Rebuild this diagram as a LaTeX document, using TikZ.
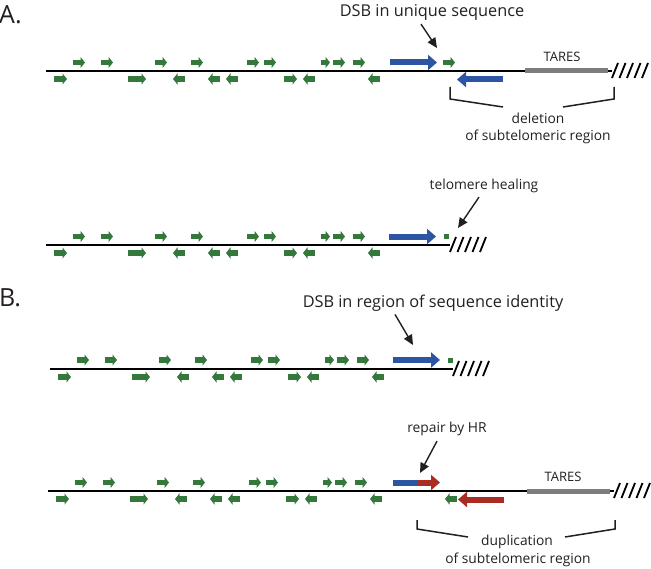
\documentclass[tikz,border=0pt]{standalone}
\usepackage{tikz}
\usetikzlibrary{arrows.meta}
\usepackage{fontspec}
\setmainfont{Open Sans}
\definecolor{repgreen}{RGB}{52,120,60}
\definecolor{dsbblue}{RGB}{46,84,164}
\definecolor{hrred}{RGB}{170,45,35}
\definecolor{taresgray}{RGB}{125,125,125}
\definecolor{inkblack}{RGB}{35,31,32}

\begin{document}
\begin{tikzpicture}[x=1bp,y=-1bp]
	\tikzstyle{dna} = [line width=2.2bp,draw=black]
	\tikzstyle{tares} = [line width=5bp,draw=taresgray]
	\tikzstyle{hatch} = [line width=1.8bp,draw=black]
	\tikzstyle{rep} = [line width=5.5bp,draw=repgreen,-{Triangle[length=4.5bp,width=11bp]}]
	\tikzstyle{bigrep} = [line width=6bp,draw=dsbblue,-{Triangle[length=9bp,width=15bp]}]
	\tikzstyle{hrrep} = [line width=6bp,draw=hrred,-{Triangle[length=9bp,width=15bp]}]
	\tikzstyle{ptr} = [line width=1.4bp,draw=inkblack,-{Triangle[length=10bp,width=9bp]}]
	\tikzstyle{brace} = [line width=1.5bp,draw=inkblack]
	\tikzstyle{lbl} = [text=inkblack,font=\fontsize{13.8bp}{16bp}\selectfont,inner sep=0]
	\tikzstyle{smlbl} = [text=inkblack,font=\fontsize{13bp}{15bp}\selectfont,inner sep=0]
	\tikzstyle{biglbl} = [text=inkblack,font=\fontsize{16.3bp}{19bp}\selectfont,inner sep=0]
	\tikzstyle{panel} = [text=inkblack,font=\fontsize{25bp}{30bp}\selectfont,inner sep=0,anchor=north west]
	\useasboundingbox (0,0) rectangle (651,569);

	\node[panel] (pA) at (-1,5) {A.};
	\node[panel] (pB) at (-1,288) {B.};

	% A. break in unique sequence
	\begin{scope}[shift={(46,71)}]
		\draw[dna] (0,0)--(566,0);
		\draw[tares] (479,0)--(562,0);
		\draw[hatch] (566,7)--(572,-8);
		\draw[hatch] (573.5,7)--(579.5,-8);
		\draw[hatch] (581,7)--(587,-8);
		\draw[hatch] (588.5,7)--(594.5,-8);
		\draw[hatch] (596,7)--(602,-8);
		\draw[rep] (27,-8.5)--++(12,0);
		\draw[rep] (55,-8.5)--++(12,0);
		\draw[rep] (109,-8.5)--++(12,0);
		\draw[rep] (145,-8.5)--++(12,0);
		\draw[rep] (201,-8.5)--++(12,0);
		\draw[rep] (218,-8.5)--++(12,0);
		\draw[rep] (275,-8.5)--++(9,0);
		\draw[rep] (287,-8.5)--++(12,0);
		\draw[rep] (307,-8.5)--++(12,0);
		\draw[rep] (8,8)--(21,8);
		\draw[rep] (82,8)--(100,8);
		\draw[rep] (139,8)--(127,8);
		\draw[rep] (174,8)--(162,8);
		\draw[rep] (192,8)--(180,8);
		\draw[rep] (238,8)--(251,8);
		\draw[rep] (269,8)--(257,8);
		\draw[rep] (334,8)--(322,8);
		\draw[bigrep] (344,-8.5)--(391,-8.5);
		\draw[rep] (397,-8.5)--(409,-8.5);
		\draw[bigrep] (457,8.5)--(411,8.5);
	\end{scope}
	\node[biglbl] (dsbA) at (432,12) {DSB in unique sequence};
	\coordinate (cutA) at (437,48);
	\draw[ptr] ([xshift=-11bp,yshift=-4bp]dsbA.south)--(cutA);
	\node[smlbl] (taresA) at (562,57) {TARES};
	\coordinate (bA1) at (450,87);
	\coordinate (bA2) at (614,87);
	\draw[brace] (bA1)--(450,99)--(503,107);
	\draw[brace] (bA2)--(614,99)--(563,107);
	\node[lbl] (delA) at (538,118) {deletion};
	\node[lbl] (delB) at (538,137) {of subtelomeric region};

	% A. healed chromosome
	\begin{scope}[shift={(46,245)}]
		\draw[dna] (0,0)--(404,0);
		\draw[hatch] (404,7)--(410,-8);
		\draw[hatch] (411.5,7)--(417.5,-8);
		\draw[hatch] (419,7)--(425,-8);
		\draw[hatch] (426.5,7)--(432.5,-8);
		\draw[hatch] (434,7)--(440,-8);
		\draw[rep] (27,-8.5)--++(12,0);
		\draw[rep] (55,-8.5)--++(12,0);
		\draw[rep] (109,-8.5)--++(12,0);
		\draw[rep] (145,-8.5)--++(12,0);
		\draw[rep] (201,-8.5)--++(12,0);
		\draw[rep] (218,-8.5)--++(12,0);
		\draw[rep] (275,-8.5)--++(9,0);
		\draw[rep] (287,-8.5)--++(12,0);
		\draw[rep] (307,-8.5)--++(12,0);
		\draw[rep] (8,8)--(21,8);
		\draw[rep] (82,8)--(100,8);
		\draw[rep] (139,8)--(127,8);
		\draw[rep] (174,8)--(162,8);
		\draw[rep] (192,8)--(180,8);
		\draw[rep] (238,8)--(251,8);
		\draw[rep] (269,8)--(257,8);
		\draw[rep] (334,8)--(322,8);
		\draw[bigrep] (343,-8.5)--(390,-8.5);
		\fill[repgreen] (398,-11)rectangle(403,-6);
	\end{scope}
	\node[lbl] (heal) at (484,186) {telomere healing};
	\coordinate (healend) at (458,228);
	\draw[ptr] ([xshift=-5bp,yshift=-4bp]heal.south)--(healend);

	% B. break in region of identity
	\begin{scope}[shift={(50,369)}]
		\draw[dna] (0,0)--(403,0);
		\draw[hatch] (403,7)--(409,-8);
		\draw[hatch] (410.5,7)--(416.5,-8);
		\draw[hatch] (418,7)--(424,-8);
		\draw[hatch] (425.5,7)--(431.5,-8);
		\draw[hatch] (433,7)--(439,-8);
		\draw[rep] (27,-9)--++(12,0);
		\draw[rep] (55,-9)--++(12,0);
		\draw[rep] (109,-9)--++(12,0);
		\draw[rep] (145,-9)--++(12,0);
		\draw[rep] (201,-9)--++(12,0);
		\draw[rep] (218,-9)--++(12,0);
		\draw[rep] (275,-9)--++(9,0);
		\draw[rep] (287,-9)--++(12,0);
		\draw[rep] (307,-9)--++(12,0);
		\draw[rep] (8,8)--(21,8);
		\draw[rep] (82,8)--(100,8);
		\draw[rep] (139,8)--(127,8);
		\draw[rep] (174,8)--(162,8);
		\draw[rep] (192,8)--(180,8);
		\draw[rep] (238,8)--(251,8);
		\draw[rep] (269,8)--(257,8);
		\draw[rep] (334,8)--(322,8);
		\draw[bigrep] (343,-9)--(390,-9);
		\fill[repgreen] (398,-11.5)rectangle(403,-6.5);
	\end{scope}
	\node[biglbl] (dsbB) at (433,303) {DSB in region of sequence identity};
	\coordinate (cutB) at (413,345);
	\draw[ptr] ([xshift=-38bp,yshift=-3bp]dsbB.south)--(cutB);

	% B. repair by HR
	\begin{scope}[shift={(48,491)}]
		\draw[dna] (0,0)--(566,0);
		\draw[tares] (479,0)--(562,0);
		\draw[hatch] (566,7)--(572,-8);
		\draw[hatch] (573.5,7)--(579.5,-8);
		\draw[hatch] (581,7)--(587,-8);
		\draw[hatch] (588.5,7)--(594.5,-8);
		\draw[hatch] (596,7)--(602,-8);
		\draw[rep] (27,-8.5)--++(12,0);
		\draw[rep] (55,-8.5)--++(12,0);
		\draw[rep] (109,-8.5)--++(12,0);
		\draw[rep] (145,-8.5)--++(12,0);
		\draw[rep] (201,-8.5)--++(12,0);
		\draw[rep] (218,-8.5)--++(12,0);
		\draw[rep] (275,-8.5)--++(9,0);
		\draw[rep] (287,-8.5)--++(12,0);
		\draw[rep] (307,-8.5)--++(12,0);
		\draw[rep] (8,8)--(21,8);
		\draw[rep] (82,8)--(100,8);
		\draw[rep] (139,8)--(127,8);
		\draw[rep] (174,8)--(162,8);
		\draw[rep] (192,8)--(180,8);
		\draw[rep] (238,8)--(251,8);
		\draw[rep] (269,8)--(257,8);
		\draw[rep] (334,8)--(322,8);
		\draw[line width=6bp,draw=dsbblue] (345,-8.5)--(370,-8.5);
		\draw[hrrep] (369,-8.5)--(392,-8.5);
		\draw[rep] (409,8)--(397,8);
		\draw[hrrep] (456,8.5)--(410,8.5);
	\end{scope}
	\node[lbl] (hr) at (447,429) {repair by HR};
	\coordinate (hrend) at (420,473);
	\draw[ptr] ([xshift=-10bp,yshift=-5bp]hr.south)--(hrend);
	\node[smlbl] (taresB) at (563,477) {TARES};
	\coordinate (bB1) at (417,520);
	\coordinate (bB2) at (615,520);
	\draw[brace] (bB1)--(417,529)--(468,537);
	\draw[brace] (bB2)--(615,529)--(565,537);
	\node[lbl] (dupA) at (517,542) {duplication};
	\node[lbl] (dupB) at (518,560) {of subtelomeric region};
\end{tikzpicture}
\end{document}
